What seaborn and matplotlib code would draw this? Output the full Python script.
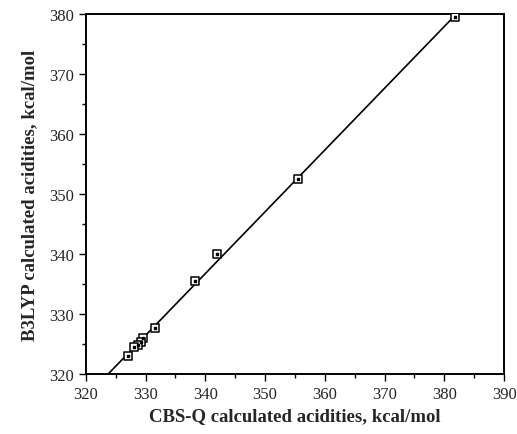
import numpy as np
import pandas as pd
import matplotlib
matplotlib.use("Agg")
import matplotlib.pyplot as plt
import seaborn as sns
from matplotlib.ticker import MultipleLocator

# CBS-Q vs B3LYP calculated acidities (kcal/mol)
cbsq = [381.8, 355.5, 342.0, 338.3, 331.6, 329.5, 329.2, 328.8, 328.0, 327.0]
b3lyp = [379.5, 352.5, 340.0, 335.5, 327.6, 326.0, 325.4, 324.8, 324.5, 323.0]

df = pd.DataFrame({"cbsq": cbsq, "b3lyp": b3lyp})

sns.set_style("white")
plt.rcParams['font.family'] = ['Liberation Serif', 'DejaVu Serif']

fig = plt.figure(figsize=(5.17, 4.35), dpi=100)
ax = fig.add_axes([0.166, 0.138, 0.809, 0.8275])

# limits first so the fitted line spans the full axis range
ax.set_xlim(320, 390)
ax.set_ylim(320, 380)

sns.regplot(data=df, x="cbsq", y="b3lyp", ax=ax, ci=None, truncate=False,
            scatter=False, line_kws={"color": "black", "lw": 1.2})
sns.scatterplot(data=df, x="cbsq", y="b3lyp", ax=ax, marker="s", s=26,
                facecolor="white", edgecolor="black", linewidth=1.1, zorder=3)
# small dot inside each square
ax.scatter(df["cbsq"], df["b3lyp"], marker="s", s=2, color="black", zorder=4)

ax.set_xlim(320, 390)
ax.set_ylim(320, 380)
ax.xaxis.set_major_locator(MultipleLocator(10))
ax.xaxis.set_minor_locator(MultipleLocator(5))
ax.yaxis.set_major_locator(MultipleLocator(10))
ax.yaxis.set_minor_locator(MultipleLocator(5))
ax.tick_params(which="both", direction="out", color="black", labelsize=12,
               bottom=True, left=True, top=False, right=False)
ax.tick_params(which="major", length=5, width=1)
ax.tick_params(which="minor", length=3, width=1)
for s in ax.spines.values():
    s.set_color("black")
    s.set_linewidth(1.4)

ax.set_xlabel("CBS-Q calculated acidities, kcal/mol", fontsize=13.5,
              fontweight="bold", labelpad=4)
ax.set_ylabel("B3LYP calculated acidities, kcal/mol", fontsize=13.5,
              fontweight="bold", labelpad=8)

fig.savefig("out.png", dpi=100)
